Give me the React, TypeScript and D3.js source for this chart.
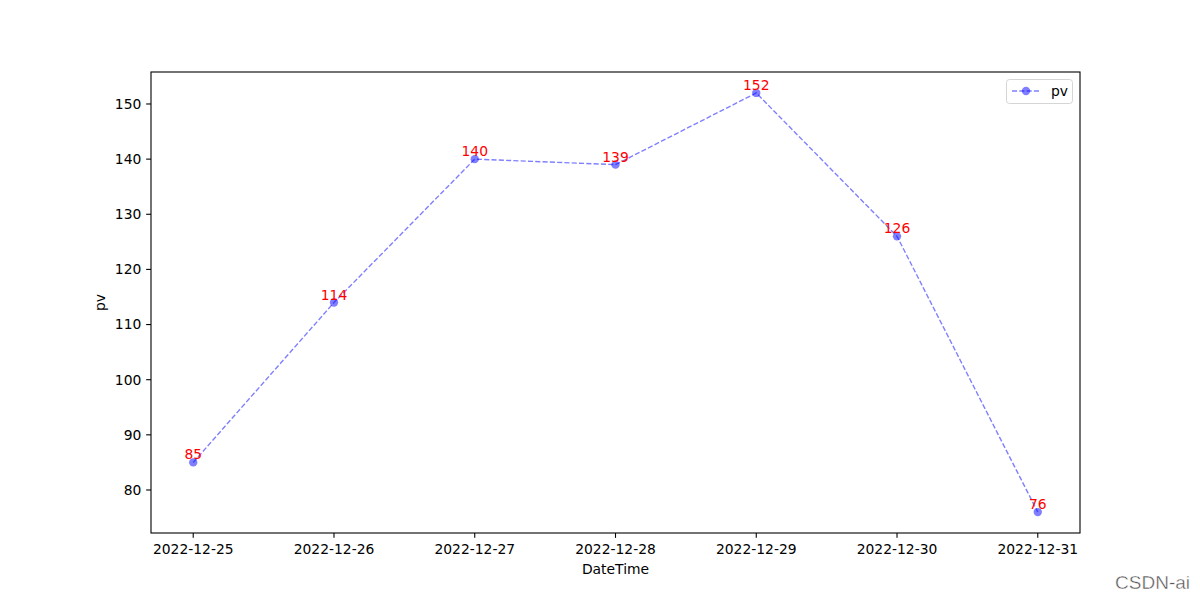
import React from "react";
import * as d3 from "d3";

const categories = ["2022-12-25", "2022-12-26", "2022-12-27", "2022-12-28", "2022-12-29", "2022-12-30", "2022-12-31"];
const pvValues = [85, 114, 140, 139, 152, 126, 76];
const yTicks = [80, 90, 100, 110, 120, 130, 140, 150];

const W = 1200, H = 600;
const left = 151, right = 1080, top = 72, bottom = 533;
const font = "'DejaVu Sans', sans-serif";
const fs = 13.89;

export default function App() {
  const n = categories.length;
  const x = d3.scaleLinear().domain([-0.3, n - 1 + 0.3]).range([left, right]);
  const minV = d3.min(pvValues)!, maxV = d3.max(pvValues)!;
  const pad = (maxV - minV) * 0.05;
  const y = d3.scaleLinear().domain([minV - pad, maxV + pad]).range([bottom, top]);
  const line = d3.line<number>().x((_, i) => x(i)).y((d) => y(d));
  const blue = "rgba(0,0,255,0.5)";
  return (
    <svg width={W} height={H} style={{ display: "block", position: "absolute", left: 0, top: 0 }} fontFamily={font}>
      <rect x={0} y={0} width={W} height={H} fill="white" />
      <path d={line(pvValues) || ""} fill="none" stroke="blue" strokeOpacity={0.5} strokeWidth={1.39} strokeDasharray="5.1,2.2" />
      {pvValues.map((v, i) => (
        <circle key={i} cx={x(i)} cy={y(v)} r={4.17} fill={blue} stroke="none" />
      ))}
      {pvValues.map((v, i) => (
        <text key={"l" + i} x={x(i)} y={y(v) - 3} textAnchor="middle" fill="red" fontSize={fs}>{v}</text>
      ))}
      <rect x={left} y={top} width={right - left} height={bottom - top} fill="none" stroke="black" strokeWidth={1.1} />
      {yTicks.map((t) => (
        <g key={t}>
          <line x1={left - 4.86} x2={left} y1={y(t)} y2={y(t)} stroke="black" strokeWidth={1.1} />
          <text x={left - 9.7} y={y(t)} dy="0.35em" textAnchor="end" fontSize={fs}>{t}</text>
        </g>
      ))}
      {categories.map((c, i) => (
        <g key={c}>
          <line x1={x(i)} x2={x(i)} y1={bottom} y2={bottom + 4.86} stroke="black" strokeWidth={1.1} />
          <text x={x(i)} y={bottom + 20.5} textAnchor="middle" fontSize={fs}>{c}</text>
        </g>
      ))}
      <text x={(left + right) / 2} y={574} textAnchor="middle" fontSize={fs}>DateTime</text>
      <text transform={`translate(105,${(top + bottom) / 2}) rotate(-90)`} textAnchor="middle" fontSize={fs}>pv</text>
      <g>
        <rect x={1006.5} y={79.5} width={66} height={24} rx={3} fill="white" fillOpacity={0.8} stroke="#d5d5d5" strokeWidth={1} />
        <line x1={1012} x2={1040} y1={91} y2={91} stroke="blue" strokeOpacity={0.5} strokeWidth={1.39} strokeDasharray="5.1,2.2" />
        <circle cx={1026} cy={91} r={4.17} fill={blue} />
        <text x={1051} y={91} dy="0.35em" fontSize={fs}>pv</text>
      </g>
      <text x={1190} y={589} textAnchor="end" fontSize={19} fill="#555" stroke="white" strokeWidth={0.4} fontFamily="'Liberation Sans', Arial, sans-serif">CSDN-ai</text>
    </svg>
  );
}
